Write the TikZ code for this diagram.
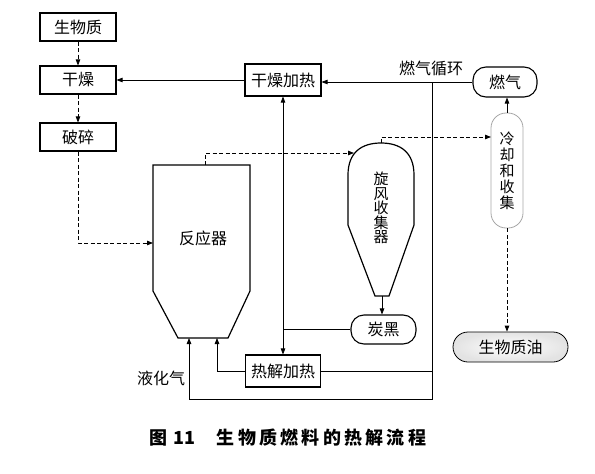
\documentclass[tikz,border=0pt]{standalone}
\usepackage{fontspec}
\setmainfont{Noto Sans CJK SC}
\usetikzlibrary{arrows.meta}
\begin{document}
\begin{tikzpicture}[x=1pt,y=-1pt,
  box/.style={draw,line width=1.1pt,minimum width=76pt,minimum height=28pt,inner sep=0pt,font=\fontsize{16}{16}\selectfont},
  rbox/.style={box,rounded corners=13pt},
  conn/.style={line width=0.8pt},
  arr/.style={conn,-{Triangle[length=6pt,width=4.5pt]}},
  darr/.style={arr,dash pattern=on 4pt off 2.5pt},
  lbl/.style={font=\fontsize{16}{16}\selectfont,inner sep=0pt}]
\useasboundingbox (0,0) rectangle (595,474);

% boxes
\node[box] (bio) at (78,27) {生物质};
\node[box] (dry) at (78,80) {干燥};
\node[box] (crush) at (78,137) {破碎};
\node[box,minimum height=32pt] (dryheat) at (283,80) {干燥加热};
\node[box,minimum width=75pt,minimum height=32pt] (pyheat) at (283,371) {热解加热};
\node[rbox,minimum width=64pt,minimum height=30pt] (gas) at (505,82) {燃气};
\node[rbox,minimum width=32pt,minimum height=115pt,rounded corners=15pt,draw=gray!70,line width=0.8pt,align=center,font=\fontsize{15}{16}\selectfont] (cool) at (507,170.5) {冷\\却\\和\\收\\集};
\node[rbox,minimum width=65pt,minimum height=29pt] (char) at (383.5,329.5) {炭黑};
\node[rbox,minimum width=115pt,minimum height=30pt,rounded corners=15pt,line width=0.8pt,inner color=white,outer color=gray!22] (oil) at (510.5,347) {生物质油};

% reactor
\draw[line width=1.2pt] (153,165) -- (250,165) -- (250,291) -- (228,338) -- (178,338) -- (153,291) -- cycle;
\node[lbl] (reactor) at (203,238) {反应器};
\coordinate (rL) at (153,243);
\coordinate (rTop) at (205,165);
\coordinate (rB1) at (189,338);
\coordinate (rB2) at (217,338);

% cyclone
\draw[line width=1.2pt] (348,225) -- (348,175) .. controls (348,152) and (362,143) .. (381,143) .. controls (400,143) and (414,152) .. (414,175) -- (414,225) -- (389,296) -- (375,296) -- cycle;
\node[lbl,align=center,font=\fontsize{15}{14.5}\selectfont] (cyc) at (381,208) {旋\\风\\收\\集\\器};
\coordinate (cycTop) at (381,143);
\coordinate (cycBot) at (382,296);
\coordinate (cycIn) at (354,153);
\coordinate (coolIn) at (491,137);

% loop coordinates
\coordinate (loopTop) at (432,82);
\coordinate (loopBot) at (432,399);
\coordinate (j2) at (432,371);
\coordinate (j3) at (283,329.5);

% connectors
\draw[darr] (bio) -- (dry);
\draw[darr] (dry) -- (crush);
\draw[darr] (crush.south) |- (rL);
\draw[arr] (dryheat) -- (dry);
\draw[arr] (gas.west) -- (gas.west -| dryheat.east);
\draw[arr] (loopTop) -- (loopBot) -| (rB1);
\draw[conn] (j2) -- (pyheat.east);
\draw[arr] (pyheat.west) -| (rB2);
\draw[conn] (char.west) -- (j3);
\draw[arr] (j3) -- (dryheat.south);
\draw[arr] (j3) -- (pyheat.north);
\draw[darr] (rTop) |- (cycIn);
\draw[darr] (cycTop) |- (coolIn);
\draw[arr] (cool.north) -- (cool.north |- gas.south);
\draw[darr] (cool.south) -- (cool.south |- oil.north);
\draw[arr] (cycBot) -- (cycBot |- char.north);

% labels
\node[lbl] (lblgas) at (431,68) {燃气循环};
\node[lbl] (lblliq) at (161,378) {液化气};
\node[font=\fontsize{18}{18}\selectfont\bfseries] (cap) at (288,438) {图\hspace{0.3em}11\hspace{1.2em}{\addfontfeatures{LetterSpace=18}生物质燃料的热解流程}};
\end{tikzpicture}
\end{document}
